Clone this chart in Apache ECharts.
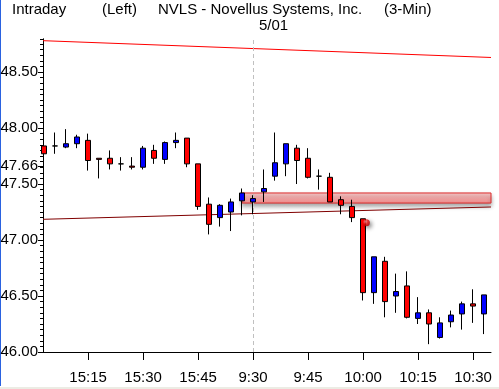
<!DOCTYPE html>
<html>
<head>
<meta charset="utf-8">
<script src="https://cdn.jsdelivr.net/npm/echarts@6/dist/echarts.min.js"></script>
<style>
html,body{margin:0;padding:0;background:#fff;}
#chart{width:499px;height:389px;}
</style>
</head>
<body>
<div id="chart"></div>
<script>
// ---- data ----
const times = ['15:03','15:06','15:09','15:12','15:15','15:18','15:21','15:24','15:27','15:30',
  '15:33','15:36','15:39','15:42','15:45','15:48','15:51','15:54','15:57',
  '9:30','9:33','9:36','9:39','9:42','9:45','9:48','9:51','9:54','9:57','10:00',
  '10:03','10:06','10:09','10:12','10:15','10:18','10:21','10:24','10:27','10:30','10:33'];
const opens  = [47.84,47.84,47.83,47.86,47.89,47.73,47.73,47.68,47.66,47.65,
  47.80,47.72,47.87,47.91,47.68,47.32,47.20,47.25,47.35,
  47.34,47.43,47.57,47.68,47.82,47.73,47.57,47.56,47.36,47.30,47.19,
  46.53,46.81,46.50,46.59,46.30,46.35,46.13,46.27,46.34,46.43,46.34];
const closes = [47.77,47.84,47.86,47.92,47.71,47.72,47.68,47.68,47.65,47.82,
  47.73,47.87,47.89,47.68,47.30,47.14,47.31,47.34,47.42,
  47.37,47.46,47.69,47.86,47.71,47.56,47.57,47.34,47.31,47.20,46.53,
  46.85,46.45,46.54,46.31,46.35,46.25,46.26,46.33,46.43,46.41,46.51];
const lows   = [47.76,47.77,47.82,47.82,47.62,47.55,47.63,47.62,47.63,47.63,
  47.68,47.68,47.82,47.65,47.27,47.05,47.12,47.08,47.22,
  47.23,47.34,47.53,47.57,47.50,47.55,47.45,47.34,47.23,47.16,46.46,
  46.43,46.31,46.35,46.30,46.25,46.07,46.12,46.22,46.20,46.26,46.16];
const highs  = [47.85,47.96,47.99,47.94,47.95,47.73,47.80,47.74,47.74,47.84,
  47.85,47.88,47.96,47.91,47.68,47.38,47.32,47.37,47.46,
  47.40,47.63,47.96,47.86,47.85,47.82,47.63,47.60,47.39,47.36,47.19,
  46.85,46.85,46.70,46.72,46.49,46.38,46.31,46.37,46.45,46.56,46.51];
const timeTicks = [4, 9, 14, 19, 24, 29, 34, 39];
const priceLabels = [46.00, 46.50, 47.00, 47.50, 47.66, 48.00, 48.50];
const upperTrend = [[-0.1, 48.78], [40.63, 48.63]];
const lowerTrend = [[-0.1, 47.185], [40.63, 47.295]];
const zoneStart = 18;
const zoneLow = 47.33, zoneHigh = 47.42;
const sessionBreak = 19;
const alertPoint = [[29.3, 47.155]];
const yMin = 46.0, yMax = 48.795;

// ---- chart ----
const FONT = "'Liberation Sans',Arial,sans-serif";
const FS = 15;
const candles = times.map((t, i) => [i, opens[i], closes[i], lows[i], highs[i]]);
const chart = echarts.init(document.getElementById('chart'), null, {renderer: 'canvas'});
const option = {
  animation: false,
  backgroundColor: '#fff',
  grid: {left: 43, right: 8, top: 39, bottom: 37, containLabel: false, outerBoundsMode: 'none'},
  xAxis: {
    type: 'value', min: -0.1, max: 40.63,
    axisLine: {show: true, lineStyle: {color: '#000', width: 1}},
    axisTick: {show: true, customValues: timeTicks, length: 8, lineStyle: {color: '#000'}},
    axisLabel: {show: true, customValues: timeTicks, margin: 18,
      formatter: v => times[Math.round(v)], color: '#000', fontSize: FS, fontFamily: FONT},
    splitLine: {show: false}
  },
  yAxis: [{
    type: 'value', min: yMin, max: yMax, interval: 0.05, scale: true,
    axisLine: {show: true, onZero: false, lineStyle: {color: '#000', width: 1}},
    axisTick: {show: true, length: 3, lineStyle: {color: '#000'}},
    axisLabel: {show: false},
    splitLine: {show: false}
  }, {
    type: 'value', min: yMin, max: yMax, interval: 0.5, position: 'left', scale: true,
    axisLine: {show: true, onZero: false, lineStyle: {color: '#000', width: 1}},
    axisTick: {show: true, length: 5, customValues: priceLabels, lineStyle: {color: '#000'}},
    axisLabel: {show: true, customValues: priceLabels, margin: 5,
      formatter: v => v.toFixed(2), color: '#000', fontSize: FS, fontFamily: FONT},
    splitLine: {show: false}
  }],
  series: [{
    type: 'line', name: 'upper', data: upperTrend, yAxisIndex: 0, symbol: 'none', z: 1,
    lineStyle: {color: '#ff0000', width: 1}, silent: true
  }, {
    type: 'line', name: 'lower', data: lowerTrend, yAxisIndex: 0, symbol: 'none', z: 1,
    lineStyle: {color: '#800000', width: 1}, silent: true,
    markArea: {
      silent: true,
      itemStyle: {
        color: {type: 'linear', x: 0, y: 0, x2: 0, y2: 1, colorStops: [
          {offset: 0, color: '#fbcfcf'}, {offset: 0.6, color: '#f2a0a0'}, {offset: 1, color: '#ec8c8c'}]},
        borderColor: '#dd2a2a', borderWidth: 1,
        shadowColor: 'rgba(0,0,0,0.35)', shadowBlur: 4, shadowOffsetY: 3
      },
      data: [[{xAxis: zoneStart, yAxis: zoneHigh}, {xAxis: 40.63, yAxis: zoneLow}]]
    },
    markLine: {
      silent: true, symbol: 'none', label: {show: false},
      lineStyle: {color: '#c0c0c0', type: [4, 3], width: 1},
      data: [{xAxis: sessionBreak}]
    }
  }, {
    type: 'candlestick', name: 'NVLS', data: candles, yAxisIndex: 0, z: 5,
    encode: {x: 0, y: [1, 2, 3, 4]},
    barWidth: 5,
    itemStyle: {color: '#0000ff', color0: '#ff0000', borderColor: '#000', borderColor0: '#000',
      borderColorDoji: '#000', borderWidth: 1}
  }, {
    type: 'scatter', name: 'alert', data: alertPoint, yAxisIndex: 0, z: 6, symbol: 'circle', symbolSize: 7,
    itemStyle: {
      color: {type: 'radial', x: 0.35, y: 0.35, r: 0.7, colorStops: [
        {offset: 0, color: '#ff9090'}, {offset: 0.5, color: '#ee1010'}, {offset: 1, color: '#b00000'}]},
      shadowColor: 'rgba(0,0,0,0.6)', shadowBlur: 4, shadowOffsetX: 2, shadowOffsetY: 2
    }
  }],
  graphic: [
    {type: 'rect', left: 0, top: 0, shape: {width: 1, height: 386}, style: {fill: '#2a62e0'}},
    {type: 'rect', left: 0, top: 387, shape: {width: 499, height: 2}, style: {fill: '#ecece4'}},
    {type: 'text', left: 12, top: 2, style: {text: 'Intraday', font: FS + 'px ' + FONT, fill: '#000'}},
    {type: 'text', left: 102, top: 2, style: {text: '(Left)', font: FS + 'px ' + FONT, fill: '#000'}},
    {type: 'text', left: 158, top: 2, style: {text: 'NVLS - Novellus Systems, Inc.', font: FS + 'px ' + FONT, fill: '#000'}},
    {type: 'text', left: 384, top: 2, style: {text: '(3-Min)', font: FS + 'px ' + FONT, fill: '#000'}},
    {type: 'text', left: 259, top: 18, style: {text: '5/01', font: FS + 'px ' + FONT, fill: '#000'}}
  ]
};
chart.setOption(option);
</script>
</body>
</html>
